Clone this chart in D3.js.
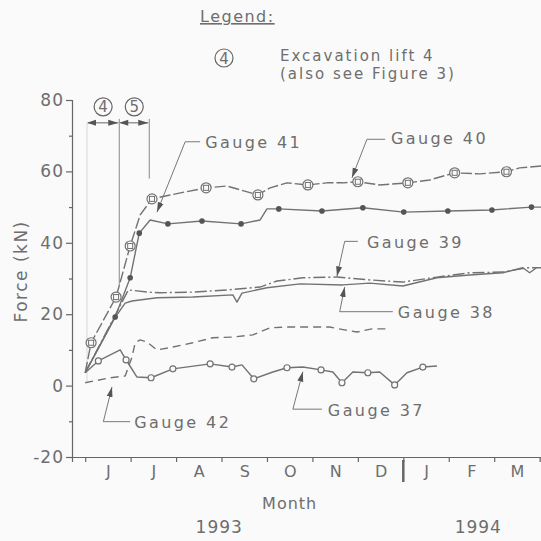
<!DOCTYPE html>
<html>
<head>
<meta charset="utf-8">
<script src="https://cdn.jsdelivr.net/npm/d3@7"></script>
<style>
  body { margin: 0; background: #fafafa; }
  svg { display: block; }
  text { font-family: 'DejaVu Sans', sans-serif; fill: #6e6e6e; }
</style>
</head>
<body>
<script>
// months counted from 1 June 1993 (0 = Jun 1), force in kN; third value 1 = plotted marker
const gauge40 = [[0,3.6],[0.13,12,1],[0.68,24.8,1],[0.99,39.1,1],[1.21,47.8],[1.47,52.3,1],[1.87,53.4],[2.66,55.4,1],[3.12,55.9],[3.8,53.4,1],[4.07,55.4],[4.44,56.8],[4.9,56.2,1],[5.32,56.8],[5.67,56.8],[6.0,57.1,1],[6.48,56.2],[7.1,56.8,1],[7.58,57.6],[8.13,59.6,1],[8.68,59.3],[9.27,59.9,1],[9.56,61],[10.03,61.5]]
const gauge41 = [[0,3.6],[0.66,19.2,1],[0.99,30.2,1],[1.19,42.7,1],[1.43,46.4],[1.82,45.3,1],[2.57,46.1,1],[3.43,45.3,1],[3.85,46.4],[4.0,49.5],[4.26,49.5,1],[5.21,48.9,1],[6.11,49.8,1],[7.01,48.6,1],[7.98,48.9,1],[8.95,49.2,1],[9.82,50,1],[10.03,50]]
const gauge39 = [[0,3.6],[0.55,17],[0.95,26.8],[1.36,26.2],[1.65,26],[2.37,26.2],[3.12,26.8],[3.85,27.6],[4.22,29.3],[4.79,30.2],[5.54,30.4],[6.26,29.6],[6.99,29],[7.74,30.4],[8.46,31.6],[9.19,31.8],[9.71,33],[10.03,33]]
const gauge38 = [[0,3.6],[0.33,11.4],[0.62,18.4],[0.88,23.1],[1.03,23.7],[1.58,24.6],[2.37,24.8],[3.25,25.4],[3.34,23.4],[3.45,25.9],[4.0,27.4],[4.73,28.5],[5.67,28.2],[6.26,28.7],[6.99,27.9],[7.74,30.2],[8.46,31],[9.19,31.6],[9.63,33],[9.78,31.6],[9.93,33]]
const gauge42 = [[0,0.8],[0.55,2.2],[0.88,2.7],[1.03,8],[1.1,12],[1.21,12.8],[1.36,12.2],[1.58,10],[1.93,10.8],[2.37,12],[2.81,13.4],[3.25,13.6],[3.69,14.2],[4.07,16.2],[4.44,16.4],[4.79,16.4],[5.38,16.4],[5.71,15.6],[5.98,15],[6.31,15.9],[6.7,15.9]]
const gauge37 = [[0,3.6],[0.29,6.9,1],[0.77,10],[0.9,7.2,1],[1.01,5],[1.14,2.4],[1.45,2.2,1],[1.93,4.7,1],[2.75,6.1,1],[3.23,5.2,1],[3.45,5.8],[3.71,1.9,1],[4.13,3.8],[4.44,5,1],[4.79,5.2],[5.19,4.4,1],[5.45,3.8],[5.65,0.8,1],[5.89,3.8],[6.22,3.6,1],[6.48,3.8],[6.81,0.2,1],[7.08,3.6],[7.43,5.2,1],[7.74,5.5]]

const monthLabels = ['J','J','A','S','O','N','D','J','F','M']
const yTicks = [-20, 0, 20, 40, 60, 80]
const years = [['1993', 2.95], ['1994', 8.65]]
const liftBounds = [0.04, 0.75, 1.41]
const liftLabels = ['4', '5']

// label: text, text anchor [m, kN], leader polyline ending at arrow tip
const gaugeLabels = [
  {text: 'Gauge 41', at: [2.64, 66.6], leader: [[2.53, 68.3], [2.2, 68.3], [1.58, 48.6]]},
  {text: 'Gauge 40', at: [6.73, 67.7], leader: [[6.6, 69], [6.2, 69], [5.87, 58.2]]},
  {text: 'Gauge 39', at: [6.2, 38.6], leader: [[6.0, 40.4], [5.71, 40.4], [5.54, 30.6]]},
  {text: 'Gauge 38', at: [6.88, 18.9], leader: [[6.77, 20.7], [5.6, 20.7], [5.71, 27.6]]},
  {text: 'Gauge 37', at: [5.34, -8.4], leader: [[5.21, -6.6], [4.57, -6.6], [4.79, 3.9]]},
  {text: 'Gauge 42', at: [1.08, -11.8], leader: [[0.99, -10.1], [0.4, -10.1], [0.59, -0.4]]}
]

const W = 541, H = 541
const ink = '#727272'

const svg = d3.select('body').append('svg')
  .attr('width', W)
  .attr('height', H)

svg.append('rect').attr('width', W).attr('height', H).attr('fill', '#fafafa')

const x = d3.scaleLinear().domain([-0.29, 10.03]).range([72, 541])
const y = d3.scaleLinear().domain([-20, 80]).range([457, 100])

svg.append('defs').append('marker')
  .attr('id', 'arrow')
  .attr('viewBox', '0 0 10 10')
  .attr('refX', 10).attr('refY', 5)
  .attr('markerWidth', 10).attr('markerHeight', 10)
  .attr('markerUnits', 'userSpaceOnUse')
  .attr('orient', 'auto')
  .append('path')
  .attr('d', 'M0,2 L10,5 L0,8 Z')
  .attr('fill', '#555')

// axes
const yAxis = d3.axisLeft(y).tickValues(yTicks).tickSize(6).tickPadding(2)
  .tickFormat(function(d) { return String(d) })
const yMinor = d3.axisLeft(y).tickValues(d3.range(-10, 80, 20)).tickSize(3).tickFormat('')

const gy = svg.append('g').attr('transform', 'translate(' + x.range()[0] + ',0)').call(yAxis)
svg.append('g').attr('transform', 'translate(' + x.range()[0] + ',0)').call(yMinor)
  .select('.domain').remove()
gy.selectAll('text').style('font-size', '17px').attr('fill', '#6e6e6e').style('letter-spacing', '1px')

const xTicks = d3.axisBottom(x).tickValues(d3.range(0, 11)).tickSize(5).tickFormat('')
const xLabels = d3.axisBottom(x).tickValues(d3.range(0, 10).map(function(d) { return d + 0.5 }))
  .tickSize(0).tickPadding(9).tickFormat(function(d, i) { return monthLabels[i] })

svg.append('g').attr('transform', 'translate(0,' + y(-20) + ')').call(xTicks)
const gx = svg.append('g').attr('transform', 'translate(0,' + y(-20) + ')').call(xLabels)
gx.select('.domain').remove()
gx.selectAll('text').style('font-size', '16px').attr('fill', '#6e6e6e')

svg.selectAll('.domain, .tick line').attr('stroke', '#666').attr('stroke-width', 1.2)

// year divider
svg.append('line')
  .attr('x1', x(7)).attr('x2', x(7))
  .attr('y1', y(-20) + 3).attr('y2', y(-20) + 25)
  .attr('stroke', '#666').attr('stroke-width', 2.5)

svg.append('text').attr('x', x(4.5)).attr('y', 509).attr('text-anchor', 'middle')
  .style('font-size', '16px').style('letter-spacing', '1px').text('Month')

svg.selectAll('.year').data(years).enter().append('text')
  .attr('class', 'year')
  .attr('x', function(d) { return x(d[1]) }).attr('y', 533)
  .attr('text-anchor', 'middle')
  .style('font-size', '17px').style('letter-spacing', '1px')
  .text(function(d) { return d[0] })

svg.append('text')
  .attr('transform', 'translate(27,' + y(32) + ') rotate(-90)')
  .attr('text-anchor', 'middle')
  .style('font-size', '17px').style('letter-spacing', '1.5px')
  .text('Force (kN)')

// excavation lift dimension marks
const dimY = y(73.6)
svg.append('line').attr('x1', x(liftBounds[0])).attr('x2', x(liftBounds[0]))
  .attr('y1', dimY).attr('y2', y(1)).attr('stroke', '#d8d8d8').attr('stroke-width', 1)
svg.append('line').attr('x1', x(liftBounds[1])).attr('x2', x(liftBounds[1]))
  .attr('y1', dimY - 4).attr('y2', y(28)).attr('stroke', '#888').attr('stroke-width', 1)
svg.append('line').attr('x1', x(liftBounds[2])).attr('x2', x(liftBounds[2]))
  .attr('y1', dimY - 4).attr('y2', y(58)).attr('stroke', '#888').attr('stroke-width', 1)

liftLabels.forEach(function(lab, i) {
  const a = x(liftBounds[i]), b = x(liftBounds[i + 1]), cx = (a + b) / 2
  svg.append('line').attr('x1', a + 1).attr('x2', b - 1).attr('y1', dimY).attr('y2', dimY)
    .attr('stroke', '#666').attr('stroke-width', 1)
    .attr('marker-end', 'url(#arrow)')
  // left arrowhead pointing outward
  svg.append('path').attr('d', 'M' + a + ',' + dimY + 'l9,-3l0,6z').attr('fill', '#555')
  svg.append('circle').attr('cx', cx).attr('cy', dimY - 16).attr('r', 9)
    .attr('fill', 'none').attr('stroke', '#666').attr('stroke-width', 1.2)
  svg.append('text').attr('x', cx).attr('y', dimY - 10.5).attr('text-anchor', 'middle')
    .style('font-size', '15px').text(lab)
})

// series
const line = d3.line()
  .x(function(d) { return x(d[0]) })
  .y(function(d) { return y(d[1]) })

function drawSeries(data, dash) {
  svg.append('path')
    .datum(data)
    .attr('d', line)
    .attr('fill', 'none')
    .attr('stroke', ink)
    .attr('stroke-width', 1.4)
    .attr('stroke-linejoin', 'round')
    .attr('stroke-dasharray', dash)
}

drawSeries(gauge42, '8,5')
drawSeries(gauge37, null)
drawSeries(gauge38, null)
drawSeries(gauge39, '12,3,2,3')
drawSeries(gauge41, null)
drawSeries(gauge40, '11,3')

svg.selectAll('.m37').data(gauge37.filter(function(d) { return d[2] })).enter().append('circle')
  .attr('cx', function(d) { return x(d[0]) }).attr('cy', function(d) { return y(d[1]) })
  .attr('r', 3).attr('fill', '#fafafa').attr('stroke', ink).attr('stroke-width', 1.2)

svg.selectAll('.m41').data(gauge41.filter(function(d) { return d[2] })).enter().append('circle')
  .attr('cx', function(d) { return x(d[0]) }).attr('cy', function(d) { return y(d[1]) })
  .attr('r', 2.8).attr('fill', '#555')

const m40 = svg.selectAll('.m40').data(gauge40.filter(function(d) { return d[2] })).enter().append('g')
  .attr('transform', function(d) { return 'translate(' + x(d[0]) + ',' + y(d[1]) + ')' })
m40.append('circle').attr('r', 5).attr('fill', '#fafafa').attr('stroke', ink).attr('stroke-width', 1.2)
m40.append('rect').attr('x', -2.5).attr('y', -2.5).attr('width', 5).attr('height', 5)
  .attr('fill', 'none').attr('stroke', ink).attr('stroke-width', 1)

// gauge labels with leaders
const leader = d3.line().x(function(d) { return x(d[0]) }).y(function(d) { return y(d[1]) })
gaugeLabels.forEach(function(g) {
  svg.append('path').attr('d', leader(g.leader))
    .attr('fill', 'none').attr('stroke', '#777').attr('stroke-width', 1)
    .attr('marker-end', 'url(#arrow)')
  svg.append('text').attr('x', x(g.at[0])).attr('y', y(g.at[1]))
    .style('font-size', '16px').style('letter-spacing', '2.4px')
    .text(g.text)
})

// legend
svg.append('text').attr('x', 200).attr('y', 22).style('font-size', '16px').style('letter-spacing', '1.5px')
  .style('text-decoration', 'underline').text('Legend:')
svg.append('circle').attr('cx', 224).attr('cy', 58).attr('r', 9)
  .attr('fill', 'none').attr('stroke', '#666').attr('stroke-width', 1.2)
svg.append('text').attr('x', 224).attr('y', 63.5).attr('text-anchor', 'middle').style('font-size', '15px').text('4')
svg.append('text').attr('x', 280).attr('y', 61).style('font-size', '15px').style('letter-spacing', '2px')
  .text('Excavation lift 4')
svg.append('text').attr('x', 280).attr('y', 79).style('font-size', '15px').style('letter-spacing', '2px')
  .text('(also see Figure 3)')
</script>
</body>
</html>
